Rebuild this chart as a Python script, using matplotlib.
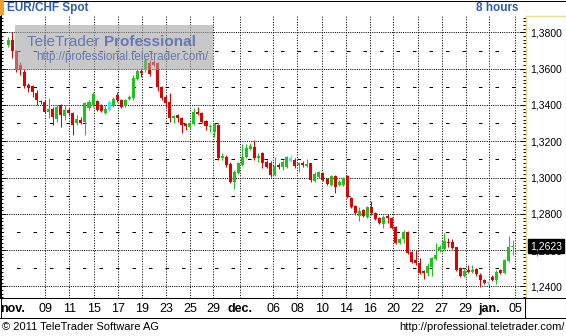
# EUR/CHF spot, 8-hour candles, TeleTrader style chart.
import matplotlib
matplotlib.use('Agg')
import matplotlib.pyplot as plt
import matplotlib.patches as mpatches
from matplotlib.lines import Line2D
from matplotlib.ticker import MultipleLocator, FuncFormatter
from matplotlib import font_manager
import numpy as np

OPEN = [1.3731, 1.3758, 1.3698, 1.3620, 1.3584, 1.3511, 1.3505, 1.3467, 1.3422, 1.3418,
        1.3363, 1.3377, 1.3323, 1.3400, 1.3341, 1.3372, 1.3354, 1.3299, 1.3317, 1.3308,
        1.3385, 1.3400, 1.3422, 1.3400, 1.3354, 1.3372, 1.3394, 1.3455, 1.3427, 1.3396,
        1.3433, 1.3437, 1.3542, 1.3589, 1.3593, 1.3633, 1.3639, 1.3630, 1.3497, 1.3442,
        1.3418, 1.3326, 1.3345, 1.3330, 1.3295, 1.3277, 1.3295, 1.3363, 1.3354, 1.3313,
        1.3277, 1.3253, 1.3290, 1.3106, 1.3115, 1.3075, 1.2978, 1.3027, 1.3070, 1.3112,
        1.3158, 1.3170, 1.3106, 1.3137, 1.3088, 1.3082, 1.3015, 1.3070, 1.3057, 1.3060,
        1.3093, 1.3097, 1.3070, 1.3082, 1.3064, 1.3079, 1.2981, 1.3002, 1.3027, 1.2991,
        1.2960, 1.3009, 1.2960, 1.2960, 1.3009, 1.2886, 1.2843, 1.2788, 1.2821, 1.2781,
        1.2839, 1.2806, 1.2775, 1.2744, 1.2788, 1.2775, 1.2730, 1.2641, 1.2660, 1.2702,
        1.2592, 1.2546, 1.2528, 1.2487, 1.2476, 1.2506, 1.2550, 1.2601, 1.2605, 1.2647,
        1.2647, 1.2616, 1.2500, 1.2458, 1.2491, 1.2481, 1.2494, 1.2463, 1.2436, 1.2417,
        1.2451, 1.2436, 1.2491, 1.2476, 1.2542, 1.2616]
HIGH = [1.3775, 1.3804, 1.3703, 1.3639, 1.3599, 1.3522, 1.3511, 1.3483, 1.3427, 1.3427,
        1.3438, 1.3388, 1.3400, 1.3405, 1.3400, 1.3383, 1.3359, 1.3345, 1.3335, 1.3418,
        1.3427, 1.3474, 1.3427, 1.3405, 1.3400, 1.3427, 1.3444, 1.3474, 1.3433, 1.3433,
        1.3455, 1.3566, 1.3602, 1.3602, 1.3657, 1.3648, 1.3648, 1.3639, 1.3505, 1.3455,
        1.3468, 1.3345, 1.3350, 1.3335, 1.3302, 1.3308, 1.3382, 1.3387, 1.3361, 1.3317,
        1.3295, 1.3302, 1.3295, 1.3134, 1.3125, 1.3088, 1.3042, 1.3086, 1.3185, 1.3185,
        1.3189, 1.3207, 1.3134, 1.3143, 1.3097, 1.3093, 1.3115, 1.3079, 1.3097, 1.3119,
        1.3125, 1.3106, 1.3088, 1.3093, 1.3101, 1.3082, 1.3031, 1.3038, 1.3033, 1.2996,
        1.3015, 1.3015, 1.2987, 1.3002, 1.3015, 1.2892, 1.2848, 1.2839, 1.2826, 1.2845,
        1.2870, 1.2812, 1.2781, 1.2793, 1.2799, 1.2781, 1.2735, 1.2667, 1.2711, 1.2706,
        1.2597, 1.2601, 1.2555, 1.2491, 1.2528, 1.2564, 1.2638, 1.2628, 1.2696, 1.2665,
        1.2660, 1.2619, 1.2506, 1.2500, 1.2519, 1.2519, 1.2500, 1.2473, 1.2441, 1.2425,
        1.2463, 1.2491, 1.2497, 1.2552, 1.2678, 1.2656]
LOW = [1.3720, 1.3659, 1.3582, 1.3566, 1.3494, 1.3474, 1.3446, 1.3400, 1.3405, 1.3354,
       1.3326, 1.3290, 1.3308, 1.3280, 1.3317, 1.3345, 1.3235, 1.3290, 1.3293, 1.3235,
       1.3372, 1.3390, 1.3367, 1.3361, 1.3348, 1.3367, 1.3388, 1.3418, 1.3383, 1.3388,
       1.3427, 1.3427, 1.3538, 1.3555, 1.3584, 1.3560, 1.3615, 1.3479, 1.3427, 1.3390,
       1.3308, 1.3299, 1.3308, 1.3244, 1.3262, 1.3266, 1.3290, 1.3345, 1.3302, 1.3262,
       1.3253, 1.3222, 1.3097, 1.3097, 1.3060, 1.2972, 1.2936, 1.3020, 1.3064, 1.3106,
       1.3152, 1.3097, 1.3088, 1.3051, 1.3053, 1.3005, 1.3009, 1.3046, 1.3042, 1.3051,
       1.3088, 1.3051, 1.3033, 1.3060, 1.3060, 1.2978, 1.2976, 1.2997, 1.2981, 1.2960,
       1.2954, 1.2914, 1.2954, 1.2954, 1.2888, 1.2832, 1.2793, 1.2762, 1.2782, 1.2775,
       1.2793, 1.2764, 1.2742, 1.2720, 1.2748, 1.2715, 1.2632, 1.2634, 1.2638, 1.2581,
       1.2531, 1.2519, 1.2469, 1.2440, 1.2458, 1.2458, 1.2546, 1.2592, 1.2601, 1.2619,
       1.2605, 1.2486, 1.2452, 1.2451, 1.2473, 1.2473, 1.2458, 1.2396, 1.2415, 1.2414,
       1.2430, 1.2414, 1.2471, 1.2471, 1.2537, 1.2573]
CLOSE = [1.3758, 1.3698, 1.3593, 1.3593, 1.3505, 1.3492, 1.3474, 1.3427, 1.3416, 1.3363,
         1.3377, 1.3335, 1.3390, 1.3345, 1.3372, 1.3354, 1.3290, 1.3323, 1.3299, 1.3409,
         1.3414, 1.3459, 1.3372, 1.3367, 1.3377, 1.3416, 1.3433, 1.3427, 1.3390, 1.3427,
         1.3446, 1.3547, 1.3589, 1.3575, 1.3648, 1.3569, 1.3620, 1.3497, 1.3437, 1.3413,
         1.3326, 1.3339, 1.3326, 1.3290, 1.3284, 1.3302, 1.3363, 1.3350, 1.3308, 1.3284,
         1.3284, 1.3295, 1.3106, 1.3119, 1.3070, 1.2978, 1.3033, 1.3079, 1.3115, 1.3161,
         1.3176, 1.3106, 1.3119, 1.3079, 1.3060, 1.3015, 1.3064, 1.3057, 1.3088, 1.3115,
         1.3106, 1.3064, 1.3082, 1.3070, 1.3075, 1.2987, 1.3020, 1.3033, 1.2987, 1.2965,
         1.3009, 1.2950, 1.2978, 1.2996, 1.2895, 1.2837, 1.2803, 1.2817, 1.2788, 1.2839,
         1.2803, 1.2770, 1.2748, 1.2784, 1.2775, 1.2720, 1.2638, 1.2660, 1.2702, 1.2586,
         1.2537, 1.2528, 1.2476, 1.2473, 1.2513, 1.2555, 1.2573, 1.2619, 1.2652, 1.2638,
         1.2610, 1.2491, 1.2458, 1.2487, 1.2481, 1.2491, 1.2469, 1.2436, 1.2421, 1.2421,
         1.2436, 1.2481, 1.2476, 1.2546, 1.2619, 1.2623]
FLAT = [25, 70, 119]   # candles drawn in cyan

DATE_POS = [1.1, 9.1, 15.1, 21.2, 27.2, 33.1, 39.1, 45.0, 50.8, 57.4, 65.7,
            71.6, 77.7, 83.7, 89.6, 95.4, 101.5, 107.4, 113.4, 119.2, 125.6]
DATE_LABELS = ["nov.", "09", "11", "15", "17", "19", "23", "25", "29", "dec.", "06",
               "08", "10", "14", "16", "20", "22", "27", "29", "jan.", "05"]
MONTHS = ["nov.", "dec.", "jan."]
Y_TICKS = [1.24, 1.26, 1.28, 1.30, 1.32, 1.34, 1.36, 1.38]
Y_MID = [1.25, 1.27, 1.29, 1.31, 1.33, 1.35, 1.37]
LAST = 1.2623

W, H = 566, 336
RED = "#E00000"
GREEN = "#1DC41D"
CYAN = "#3FE6F0"
BLUE = "#2F5DB5"
WM_BLUE = "#6677B4"
YELLOW = "#EEDD88"

names = {f.name for f in font_manager.fontManager.ttflist}
SANS = "Liberation Sans" if "Liberation Sans" in names else "DejaVu Sans"
NARROW = "Liberation Sans Narrow" if "Liberation Sans Narrow" in names else SANS
plt.rcParams['font.family'] = SANS


def fx(x):
    return x / W


def fy(y):
    return 1 - y / H


def fig_line(fig, xs, ys, color="black", lw=0.75, z=4):
    fig.add_artist(Line2D([fx(v) for v in xs], [fy(v) for v in ys],
                          transform=fig.transFigure, color=color, lw=lw, zorder=z))


fig = plt.figure(figsize=(W / 100, H / 100), dpi=100, facecolor="white")
ax = fig.add_axes([0, fy(298), fx(525.5), (298 - 16) / H])
ax.set_facecolor("white")

x = np.arange(len(OPEN))
o = np.array(OPEN)
c = np.array(CLOSE)
colors = np.where(c >= o, GREEN, RED).astype(object)
for i in FLAT:
    colors[i] = CYAN
ax.vlines(x, LOW, HIGH, colors=list(colors), lw=0.75, zorder=3)
ax.bar(x, np.maximum(np.abs(c - o), 0.0008), bottom=np.minimum(o, c), width=0.75,
       color=list(colors), lw=0, zorder=4)

# grid
for p in DATE_POS[1:]:
    ax.axvline(p, color="black", lw=0.72, ls=(0, (1, 1.6)), zorder=1)
for p in Y_TICKS:
    ax.axhline(p, color="black", lw=0.72, ls=(0, (1, 1.2)), zorder=1)
for p in Y_MID:
    ax.axhline(p, color="black", lw=0.72, ls=(0, (3.5, 13)), zorder=1)

ax.set_xlim(-2.06, 128.2)
ax.set_ylim(1.23365, 1.38903)

ax.set_yticks(Y_TICKS)
ax.yaxis.set_minor_locator(MultipleLocator(0.002))
ax.yaxis.set_major_formatter(FuncFormatter(lambda v, _: f"{v:.4f}".replace(".", ",")))
ax.tick_params(axis="y", which="both", direction="in", left=True, right=True,
               labelleft=False, labelright=True, labelsize=7.5, pad=3.2, width=0.7)
ax.tick_params(axis="y", which="major", length=4.5)
ax.tick_params(axis="y", which="minor", length=2.5)

ax.set_xticks(DATE_POS)
ax.set_xticklabels(DATE_LABELS)
ax.tick_params(axis="x", length=0, pad=3.5, labelsize=9)
for t in ax.get_xticklabels():
    t.set_family(NARROW)
    if t.get_text() in MONTHS:
        t.set_weight("bold")

for side in ["top", "bottom"]:
    ax.spines[side].set_visible(False)
ax.spines["left"].set_color("black")
ax.spines["right"].set_color(YELLOW)
ax.spines["right"].set_linewidth(1.0)

# last price marker, covering the 1,2600 label as in the terminal
ax.annotate(f"{LAST:.4f}".replace(".", ","), xy=(1, LAST), xycoords=ax.get_yaxis_transform(),
            xytext=(4.5, 0), textcoords="offset pixels", ha="left", va="center",
            color="white", fontsize=7.5, annotation_clip=False, zorder=10,
            bbox=dict(boxstyle="square,pad=0.15", fc="black", ec="black"))

# frame and panels
fig_line(fig, [0, W], [0.5, 0.5])
fig_line(fig, [0.5, 0.5], [0, 318])
fig_line(fig, [565.5, 565.5], [15, 318])
fig_line(fig, [0, W], [298, 298])
fig_line(fig, [0, W], [318, 318])
fig_line(fig, [525, 525], [298, 318])
fig_line(fig, [526, 565], [15.5, 15.5], color=YELLOW, lw=1.0)

fig.add_artist(mpatches.Rectangle((0, fy(15)), fx(4), 15 / H, transform=fig.transFigure,
                                  color="#F0A030", lw=0, zorder=4))
fig.text(fx(7), fy(8), "EUR/CHF Spot", color=BLUE, weight="bold", fontsize=8.5,
         va="center", ha="left")
fig.text(fx(519), fy(8), "8 hours", color=BLUE, weight="bold", fontsize=8.5,
         va="center", ha="right")

# watermark
fig.add_artist(mpatches.Rectangle((fx(15), fy(70)), fx(198), 45 / H, transform=fig.transFigure,
                                  facecolor="#A4A4A4", alpha=0.6, lw=0, zorder=3))
fig.text(fx(104), fy(42), "TeleTrader ", color=WM_BLUE, fontsize=11, ha="right",
         va="center", zorder=5)
fig.text(fx(104), fy(42), "Professional", color=WM_BLUE, fontsize=11, weight="bold",
         ha="left", va="center", zorder=5)
fig.text(fx(122), fy(57), "http://professional.teletrader.com/", color=WM_BLUE,
         fontsize=8.4, ha="center", va="center", zorder=5)

# footer
fig.text(fx(2), fy(327), "© 2011 TeleTrader Software AG", fontsize=8, va="center", ha="left")
fig.text(fx(565), fy(327), "http://professional.teletrader.com/", fontsize=8,
         va="center", ha="right")

fig.savefig("out.png", dpi=100, facecolor="white")
